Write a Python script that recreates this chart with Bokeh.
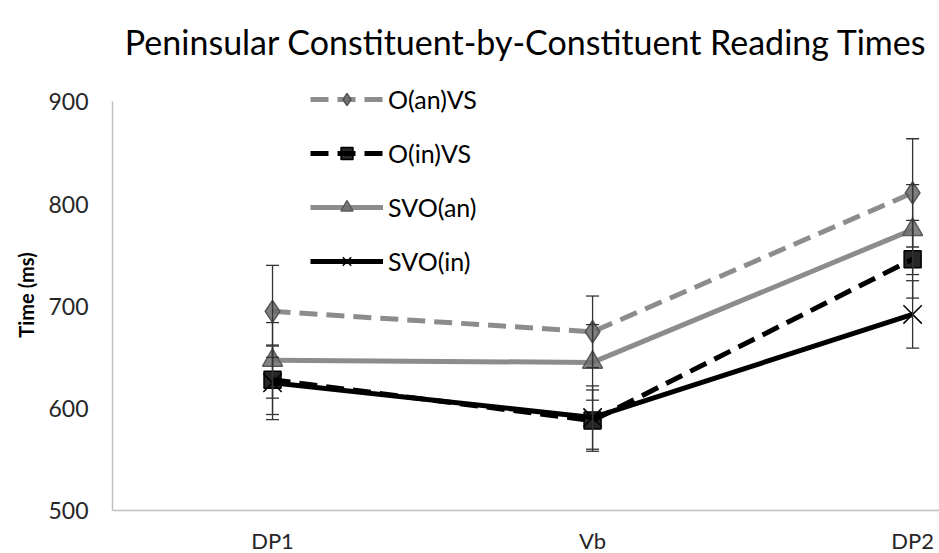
from bokeh.plotting import figure
from bokeh.models import (Legend, LegendItem, Whisker, TeeHead, ColumnDataSource,
                          FixedTicker, Range1d)
from bokeh.embed import file_html
from bokeh.resources import INLINE

categories = ["DP1", "Vb", "DP2"]
series_names = ["O(an)VS", "O(in)VS", "SVO(an)", "SVO(in)"]
oanvs = [695, 675, 811]
oinvs = [628, 588, 746]
svoan = [647, 645, 775]
svoin = [625, 591, 692]
oanvs_err = [45, 35, 53]
oinvs_err = [34, 30, 38]
svoan_err = [37, 37, 44]
svoin_err = [36, 31, 33]

title = "Peninsular Constituent-by-Constituent Reading Times"
y_label = "Time (ms)"
y_ticks = [500, 600, 700, 800, 900]

FONT = "Lato"
xs = list(range(len(categories)))

p = figure(frame_width=827, frame_height=431, output_backend="svg", toolbar_location=None,
           x_range=Range1d(-0.5, 2.084), y_range=Range1d(500, 922),
           min_border_left=112, min_border_right=0, min_border_top=78,
           min_border_bottom=44)
p.outline_line_color = None
p.xgrid.grid_line_color = None
p.ygrid.grid_line_color = None
p.background_fill_color = "white"
p.border_fill_color = "white"

p.title.text = title
p.title.text_font = FONT
p.title.text_font_size = "34px"
p.title.text_font_style = "normal"
p.title.text_color = "#000000"
p.title.align = "center"
p.title.standoff = 36

# axes
p.xaxis.ticker = FixedTicker(ticks=xs)
p.xaxis.major_label_overrides = {i: c for i, c in zip(xs, categories)}
p.xaxis.axis_label = None
p.yaxis.ticker = FixedTicker(ticks=y_ticks)
p.yaxis.bounds = (500, 900)
for ax in (p.xaxis, p.yaxis):
    ax.axis_line_color = "#bfbfbf"
    ax.axis_line_width = 1.5
    ax.major_tick_line_color = None
    ax.minor_tick_line_color = None
    ax.major_tick_out = 0
    ax.major_tick_in = 0
    ax.minor_tick_out = 0
    ax.major_label_text_font = FONT
    ax.major_label_text_color = "#262626"
p.xaxis.major_label_text_font_size = "22px"
p.yaxis.major_label_text_font_size = "23px"
p.xaxis.major_label_standoff = 16
p.xaxis.axis_label_standoff = 0
p.yaxis.major_label_standoff = 24
p.yaxis.axis_label = y_label
p.yaxis.axis_label_text_font = FONT
p.yaxis.axis_label_text_font_size = "20px"
p.yaxis.axis_label_text_font_style = "bold"
p.yaxis.axis_label_text_color = "#000000"
p.yaxis.axis_label_standoff = 7

styles = [
    dict(vals=oanvs, err=oanvs_err, color="#8c8c8c", dash="18 9", marker="diamond",
         mfill="#6a6a6a", mline="#555555", msize=22),
    dict(vals=oinvs, err=oinvs_err, color="#000000", dash="18 9", marker="square",
         mfill="#000000", mline="#000000", msize=17),
    dict(vals=svoan, err=svoan_err, color="#8c8c8c", dash="solid", marker="triangle",
         mfill="#6f6f6f", mline="#5a5a5a", msize=20),
    dict(vals=svoin, err=svoin_err, color="#000000", dash="solid", marker="x",
         mfill="#000000", mline="#000000", msize=26),
]

items = []
for name, st in zip(series_names, styles):
    src = ColumnDataSource(dict(x=xs, y=st["vals"],
                                lo=[v - e for v, e in zip(st["vals"], st["err"])],
                                hi=[v + e for v, e in zip(st["vals"], st["err"])]))
    ln = p.line("x", "y", source=src, line_color=st["color"], line_width=5,
                line_dash=st["dash"])
    mk = p.scatter("x", "y", source=src, marker=st["marker"], size=st["msize"],
                   fill_color=st["mfill"], fill_alpha=0.85,
                   line_color=st["mline"], line_width=1.5)
    w = Whisker(source=src, base="x", lower="lo", upper="hi",
                line_color="#333333", line_width=1.3, level="overlay",
                lower_head=TeeHead(size=13, line_color="#333333", line_width=1.3),
                upper_head=TeeHead(size=13, line_color="#333333", line_width=1.3))
    p.add_layout(w)
    items.append(LegendItem(label=name, renderers=[ln, mk]))

legend = Legend(items=items, location=(198, 234), orientation="vertical",
                glyph_width=73, glyph_height=30, label_height=30,
                spacing=24, padding=0, margin=0, label_standoff=5,
                label_text_font=FONT, label_text_font_size="25px",
                label_text_color="#000000",
                border_line_color=None, background_fill_alpha=0)
p.add_layout(legend)

open("out.html", "w").write(file_html(p, INLINE))
